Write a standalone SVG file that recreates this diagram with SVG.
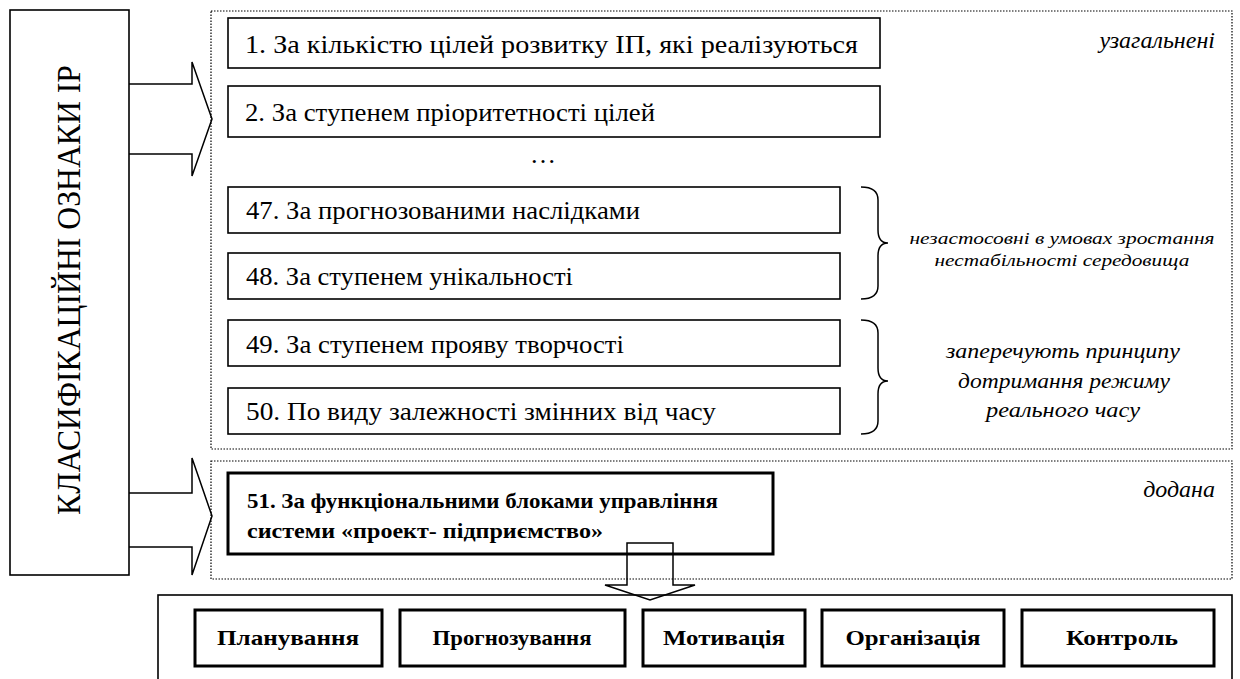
<svg xmlns="http://www.w3.org/2000/svg" width="1240" height="679" viewBox="0 0 1240 679">
<style>
.bx{fill:#fff;stroke:#000;stroke-width:1.6}
.bxb{fill:#fff;stroke:#000;stroke-width:3}
.dot{fill:none;stroke:#000;stroke-width:1.2;stroke-dasharray:1.5 1.5}
text{font-family:'Liberation Serif','Times New Roman',serif;fill:#000}
.t{font-size:26px}
.tb{font-size:21px;font-weight:bold}
.ti{font-style:italic}
.ln{fill:none;stroke:#000;stroke-width:1.5}
</style>
<rect width="1240" height="679" fill="#fff"/>
<g id="groups">
<rect class="dot" x="211" y="11" width="1021" height="438"/>
<rect class="dot" x="211" y="461" width="1021" height="118"/>
</g>
<g id="connectors">
<path class="ln" d="M129,84 H192 V62 L212,119 L192,176 V154 H129" fill="#fff"/>
<path class="ln" d="M129,493 H192 V458 L212,516 L192,575 V547 H129" fill="#fff"/>
<path class="ln" d="M861,187 Q878,187 878,200 V230 Q878,243 888,243 Q878,243 878,256 V286 Q878,299 861,299"/>
<path class="ln" d="M861,320 Q878,320 878,333 V368 Q878,381 888,381 Q878,381 878,394 V421 Q878,434 861,434"/>
</g>
<g id="bottom-frame">
<rect class="bx" x="158" y="595" width="1074" height="100"/>
</g>
<g id="n0">
<rect class="bx" x="10" y="10" width="119" height="565"/>
<text class="t" transform="translate(80,290) rotate(-90)" text-anchor="middle" style="font-size:34px" textLength="450" lengthAdjust="spacingAndGlyphs">КЛАСИФІКАЦІЙНІ ОЗНАКИ ІР</text>
</g>
<g id="n1"><rect class="bx" x="228" y="18" width="652" height="50"/><text class="t" x="245" y="53" textLength="613" lengthAdjust="spacingAndGlyphs">1. За кількістю цілей розвитку ІП, які реалізуються</text></g>
<g id="n2"><rect class="bx" x="228" y="86" width="652" height="51"/><text class="t" x="245" y="121" textLength="410" lengthAdjust="spacingAndGlyphs">2. За ступенем пріоритетності цілей</text></g>
<text class="t" x="543" y="163" text-anchor="middle">…</text>
<g id="n47"><rect class="bx" x="228" y="187" width="612" height="46"/><text class="t" x="246" y="219" textLength="394" lengthAdjust="spacingAndGlyphs">47. За прогнозованими наслідками</text></g>
<g id="n48"><rect class="bx" x="228" y="253" width="612" height="46"/><text class="t" x="246" y="285" textLength="327" lengthAdjust="spacingAndGlyphs">48. За ступенем унікальності</text></g>
<g id="n49"><rect class="bx" x="228" y="320" width="612" height="46"/><text class="t" x="246" y="353" textLength="378" lengthAdjust="spacingAndGlyphs">49. За ступенем прояву творчості</text></g>
<g id="n50"><rect class="bx" x="228" y="388" width="612" height="46"/><text class="t" x="246" y="420" textLength="470" lengthAdjust="spacingAndGlyphs">50. По виду залежності змінних від часу</text></g>
<text class="ti" x="1215" y="48" text-anchor="end" style="font-size:24px">узагальнені</text>
<g id="note1">
<text class="ti" x="1062" y="244" text-anchor="middle" style="font-size:17px" textLength="305" lengthAdjust="spacingAndGlyphs">незастосовні в умовах зростання</text>
<text class="ti" x="1062" y="266" text-anchor="middle" style="font-size:17px" textLength="255" lengthAdjust="spacingAndGlyphs">нестабільності середовища</text>
</g>
<g id="note2">
<text class="ti" x="1063" y="358" text-anchor="middle" style="font-size:21px" textLength="234" lengthAdjust="spacingAndGlyphs">заперечують принципу</text>
<text class="ti" x="1064" y="388" text-anchor="middle" style="font-size:21px" textLength="212" lengthAdjust="spacingAndGlyphs">дотримання режиму</text>
<text class="ti" x="1063" y="417" text-anchor="middle" style="font-size:21px" textLength="154" lengthAdjust="spacingAndGlyphs">реального часу</text>
</g>
<text class="ti" x="1215" y="497" text-anchor="end" style="font-size:24px">додана</text>
<g id="n51">
<rect class="bxb" x="228" y="473" width="545" height="81"/>
<text class="tb" x="247" y="508" textLength="471" lengthAdjust="spacingAndGlyphs">51. За функціональними блоками управління</text>
<text class="tb" x="247" y="538" textLength="356" lengthAdjust="spacingAndGlyphs">системи «проект- підприємство»</text>
</g>
<path class="ln" d="M627,543 H673 V585 H695 L650,600 L605,585 H627 Z" fill="#fff"/>
<g id="f1"><rect class="bxb" x="195" y="610" width="187" height="56"/><text class="tb" x="288" y="645" text-anchor="middle" textLength="142" lengthAdjust="spacingAndGlyphs">Планування</text></g>
<g id="f2"><rect class="bxb" x="400" y="610" width="225" height="56"/><text class="tb" x="512" y="645" text-anchor="middle" textLength="159" lengthAdjust="spacingAndGlyphs">Прогнозування</text></g>
<g id="f3"><rect class="bxb" x="643" y="610" width="162" height="56"/><text class="tb" x="724" y="645" text-anchor="middle" textLength="122" lengthAdjust="spacingAndGlyphs">Мотивація</text></g>
<g id="f4"><rect class="bxb" x="822" y="610" width="182" height="56"/><text class="tb" x="913" y="645" text-anchor="middle" textLength="135" lengthAdjust="spacingAndGlyphs">Організація</text></g>
<g id="f5"><rect class="bxb" x="1022" y="610" width="192" height="56"/><text class="tb" x="1122" y="645" text-anchor="middle" textLength="112" lengthAdjust="spacingAndGlyphs">Контроль</text></g>
</svg>
